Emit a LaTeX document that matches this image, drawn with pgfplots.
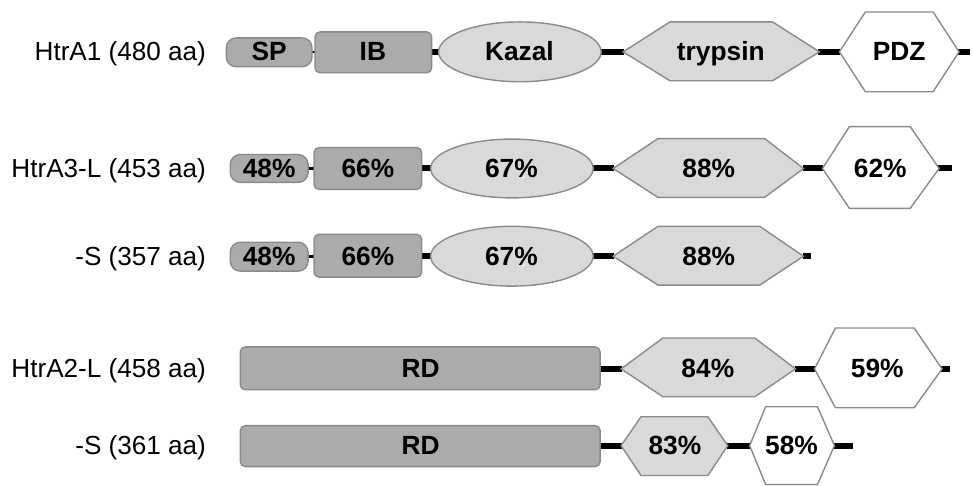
\documentclass[border=0pt]{standalone}
\usepackage{pgfplots}
\pgfplotsset{compat=1.18}
\usepackage{fontspec}
\setmainfont{Liberation Sans}
\definecolor{dk}{HTML}{ABABAB}
\definecolor{lt}{HTML}{D9D9D9}
\definecolor{bd}{HTML}{8A8A8A}
\tikzset{
  lab/.style={font=\fontsize{13.1}{15}\selectfont,inner sep=0pt,anchor=base east},
  dom/.style={font=\fontsize{13.2}{15}\selectfont\bfseries,inner sep=0pt,anchor=base},
}
\begin{document}
\begin{tikzpicture}
\begin{axis}[x=0.5pt,y=0.5pt,y dir=reverse,xmin=0,xmax=973,ymin=0,ymax=487,
  hide axis,clip=false,no markers,
  con/.style={black,line width=3pt},
  thincon/.style={black,line width=1.3pt},
  box/.style={fill=dk,draw=bd,line width=0.7pt,rounded corners=2.5pt},
  pill/.style={fill=dk,draw=bd,line width=0.7pt,rounded corners=5pt},
  ell/.style={fill=lt,draw=bd,line width=0.7pt,smooth cycle,tension=0.68},
  hexl/.style={fill=lt,draw=bd,line width=0.7pt},
  hexw/.style={fill=white,draw=bd,line width=0.7pt},
]
\addplot[draw=none] coordinates {(0,0) (973,487)};
% ---------- connectors ----------
% row 1
\addplot[thincon] coordinates {(312,52) (317,52)};
\addplot[con] coordinates {(432,52) (441,52)};
\addplot[con] coordinates {(602,52) (626,52)};
\addplot[con] coordinates {(821,52) (843,52)};
\addplot[con] coordinates {(961,52) (973,52)};
% row 2
\addplot[thincon] coordinates {(308,169) (316,169)};
\addplot[con] coordinates {(422,169) (433,169)};
\addplot[con] coordinates {(594,169) (616,169)};
\addplot[con] coordinates {(805,169) (826,169)};
\addplot[con] coordinates {(941,169) (955,169)};
% row 3
\addplot[thincon] coordinates {(308,257) (316,257)};
\addplot[con] coordinates {(422,257) (433,257)};
\addplot[con] coordinates {(594,257) (616,257)};
\addplot[con] coordinates {(805,257) (813,257)};
% row 4
\addplot[con] coordinates {(601,370) (624,370)};
\addplot[con] coordinates {(797,370) (818,370)};
\addplot[con] coordinates {(944,370) (953,370)};
% row 5
\addplot[con] coordinates {(601,447) (624,447)};
\addplot[con] coordinates {(729,447) (753,447)};
\addplot[con] coordinates {(836,447) (856,447)};
% ---------- row 1: HtrA1 ----------
\addplot[pill] coordinates {(270,38) (313,38) (313,67) (227,67) (227,38)} -- cycle;
\addplot[box] coordinates {(374,32) (433,32) (433,73) (316,73) (316,32)} -- cycle;
\addplot[ell] coordinates {(603,52) (579.1,73.2) (521.5,82) (463.9,73.2) (440,52) (463.9,30.8) (521.5,22) (579.1,30.8)};
\addplot[hexl] coordinates {(625,52) (672,22) (775,22) (822,52) (775,81) (672,81)} -- cycle;
\addplot[hexw] coordinates {(842,52) (868,12) (936,12) (962,52) (936,92) (868,92)} -- cycle;
% ---------- row 2: HtrA3-L ----------
\addplot[pill] coordinates {(270,155) (309,155) (309,183) (231,183) (231,155)} -- cycle;
\addplot[box] coordinates {(369,148) (423,148) (423,190) (315,190) (315,148)} -- cycle;
\addplot[ell] coordinates {(595,169) (571.1,189.9) (513.5,198.5) (455.9,189.9) (432,169) (455.9,148.1) (513.5,139.5) (571.1,148.1)};
\addplot[hexl] coordinates {(615,169) (660,139) (767,139) (806,169) (767,198) (660,198)} -- cycle;
\addplot[hexw] coordinates {(825,169) (852,127) (913,127) (942,169) (913,209) (852,209)} -- cycle;
% ---------- row 3: HtrA3-S ----------
\addplot[pill] coordinates {(270,243) (309,243) (309,272) (231,272) (231,243)} -- cycle;
\addplot[box] coordinates {(369,235) (423,235) (423,278) (315,278) (315,235)} -- cycle;
\addplot[ell] coordinates {(595,257) (571.1,278.2) (513.5,287) (455.9,278.2) (432,257) (455.9,235.8) (513.5,227) (571.1,235.8)};
\addplot[hexl] coordinates {(615,257) (660,227) (762,227) (806,257) (762,286) (660,286)} -- cycle;
% ---------- row 4: HtrA2-L ----------
\addplot[box] coordinates {(421,348) (602,348) (602,391) (241,391) (241,348)} -- cycle;
\addplot[hexl] coordinates {(623,370) (665,339) (757,339) (798,370) (757,398) (665,398)} -- cycle;
\addplot[hexw] coordinates {(817,370) (838,329) (917,329) (945,370) (917,409) (838,409)} -- cycle;
% ---------- row 5: HtrA2-S ----------
\addplot[box] coordinates {(421,427) (602,427) (602,468) (241,468) (241,427)} -- cycle;
\addplot[hexl] coordinates {(623,447) (643,418) (710,418) (730,447) (710,477) (643,477)} -- cycle;
\addplot[hexw] coordinates {(752,447) (768,408) (820,408) (837,447) (820,486) (768,486)} -- cycle;
% ---------- row labels ----------
\node[lab] at (axis cs:207,61) {HtrA1 (480 aa)};
\node[lab] at (axis cs:207,178) {HtrA3-L (453 aa)};
\node[lab] at (axis cs:207,266) {-S (357 aa)};
\node[lab] at (axis cs:207,379) {HtrA2-L (458 aa)};
\node[lab] at (axis cs:207,456) {-S (361 aa)};
% ---------- domain labels ----------
\node[dom] at (axis cs:270,61) {SP};
\node[dom] at (axis cs:374,61) {IB};
\node[dom] at (axis cs:521,61) {Kazal};
\node[dom] at (axis cs:723,61) {trypsin};
\node[dom] at (axis cs:902,61) {PDZ};
\node[dom] at (axis cs:270,178) {48\%};
\node[dom] at (axis cs:369,178) {66\%};
\node[dom] at (axis cs:513,178) {67\%};
\node[dom] at (axis cs:711,178) {88\%};
\node[dom] at (axis cs:883,178) {62\%};
\node[dom] at (axis cs:270,266) {48\%};
\node[dom] at (axis cs:369,266) {66\%};
\node[dom] at (axis cs:513,266) {67\%};
\node[dom] at (axis cs:711,266) {88\%};
\node[dom] at (axis cs:422,379) {RD};
\node[dom] at (axis cs:710,379) {84\%};
\node[dom] at (axis cs:880,379) {59\%};
\node[dom] at (axis cs:422,456) {RD};
\node[dom] at (axis cs:677,456) {83\%};
\node[dom] at (axis cs:794,456) {58\%};
\end{axis}
\end{tikzpicture}
\end{document}
